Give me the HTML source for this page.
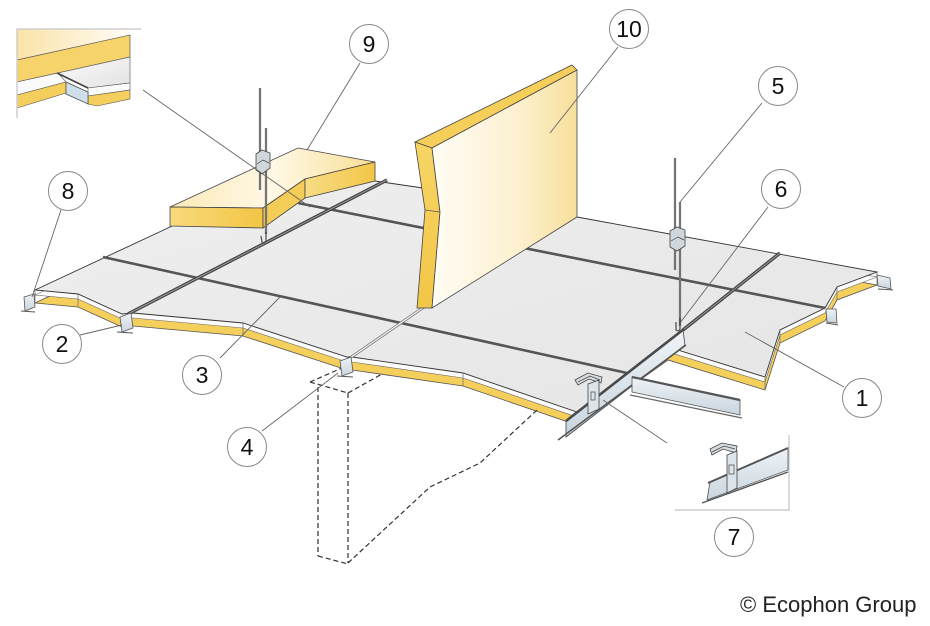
<!DOCTYPE html>
<html><head><meta charset="utf-8"><style>
html,body{margin:0;padding:0;background:#fff;}
svg{display:block;}
text{font-family:"Liberation Sans",Arial,sans-serif;}
</style></head><body>
<svg width="930" height="626" viewBox="0 0 930 626" xmlns="http://www.w3.org/2000/svg">
<defs>
 <linearGradient id="gSurf" x1="0" y1="0" x2="1" y2="1">
  <stop offset="0" stop-color="#efefef"/><stop offset="1" stop-color="#e5e5e5"/>
 </linearGradient>
 <linearGradient id="gPanel" x1="432" y1="0" x2="577" y2="0" gradientUnits="userSpaceOnUse">
  <stop offset="0" stop-color="#fffdf5"/><stop offset="0.6" stop-color="#fcf0cf"/><stop offset="1" stop-color="#f8df9a"/>
 </linearGradient>
 <linearGradient id="gSide" x1="0" y1="0" x2="0" y2="1">
  <stop offset="0" stop-color="#f7d565"/><stop offset="1" stop-color="#f2c647"/>
 </linearGradient>
 <linearGradient id="gBlockTop" x1="170" y1="0" x2="375" y2="0" gradientUnits="userSpaceOnUse">
  <stop offset="0" stop-color="#fbeab8"/><stop offset="0.5" stop-color="#fff8e6"/><stop offset="1" stop-color="#f8df95"/>
 </linearGradient>
 <linearGradient id="gBlockFront" x1="170" y1="0" x2="263" y2="0" gradientUnits="userSpaceOnUse">
  <stop offset="0" stop-color="#f8da7c"/><stop offset="1" stop-color="#f2c544"/>
 </linearGradient>
 <linearGradient id="gBlockRight" x1="305" y1="0" x2="375" y2="0" gradientUnits="userSpaceOnUse">
  <stop offset="0" stop-color="#f8dc86"/><stop offset="1" stop-color="#f2c647"/>
 </linearGradient>
 <linearGradient id="gCream" x1="0" y1="0" x2="1" y2="0">
  <stop offset="0" stop-color="#fae3a6"/><stop offset="1" stop-color="#fffdf8"/>
 </linearGradient>
 <linearGradient id="gInsetGray" x1="0" y1="0" x2="1" y2="1">
  <stop offset="0" stop-color="#fbfbfb"/><stop offset="1" stop-color="#e2e2e2"/>
 </linearGradient>
 <linearGradient id="gMetal" x1="0" y1="0" x2="0" y2="1">
  <stop offset="0" stop-color="#eef3f7"/><stop offset="1" stop-color="#c9d5de"/>
 </linearGradient>
</defs>

<!-- ceiling thickness (yellow + white strip) -->
<polygon transform="translate(0,13)" points="35,290 170,227 300,172 375,181 423,188 577,217 877,272 837,287 825,308 780,330 765,377 668,347 577,412 463,373 352,357 347,357 243,323 133,313 122,314 78,294" fill="#f5cf5c" stroke="#555" stroke-width="0.8"/>
<polygon transform="translate(0,5)" points="35,290 170,227 300,172 375,181 423,188 577,217 877,272 837,287 825,308 780,330 765,377 668,347 577,412 463,373 352,357 347,357 243,323 133,313 122,314 78,294" fill="#fbfbfb" stroke="#666" stroke-width="0.6"/>
<!-- ceiling top surface -->
<polygon points="35,290 170,227 300,172 375,181 423,188 577,217 877,272 837,287 825,308 780,330 765,377 668,347 577,412 463,373 352,357 347,357 243,323 133,313 122,314 78,294" fill="url(#gSurf)" stroke="#333" stroke-width="0.9"/>
<!-- corner verticals -->
<g stroke="#666" stroke-width="0.7">
 <line x1="35" y1="290" x2="35" y2="303"/>
 <line x1="78" y1="294" x2="78" y2="307"/>
 <line x1="243" y1="323" x2="243" y2="336"/>
 <line x1="463" y1="373" x2="463" y2="386"/>
 <line x1="765" y1="377" x2="765" y2="390"/>
 <line x1="780" y1="330" x2="780" y2="343"/>
 <line x1="837" y1="287" x2="837" y2="300"/>
 <line x1="877" y1="272" x2="877" y2="285"/>
</g>

<!-- dashed column / wall -->
<g fill="none" stroke="#333" stroke-width="1.2" stroke-dasharray="5,3">
 <line x1="318" y1="387" x2="318" y2="556"/>
 <line x1="348" y1="393" x2="348" y2="563"/>
 <line x1="318" y1="556" x2="348" y2="564"/>
 <line x1="310" y1="382" x2="348" y2="393"/>
 <line x1="310" y1="382" x2="342" y2="368"/>
 <line x1="348" y1="393" x2="382" y2="374"/>
 <polyline points="348,563 430,487 480,463 537,410"/>
</g>

<!-- cross lines on surface -->
<line x1="103" y1="257" x2="627" y2="373" stroke="#555" stroke-width="2.6"/>
<line x1="298" y1="203" x2="825" y2="308" stroke="#555" stroke-width="2.6"/>
<!-- left main runner -->
<line x1="387" y1="180" x2="128" y2="314" stroke="#444" stroke-width="3.4"/>
<line x1="387" y1="180" x2="128" y2="314" stroke="#9a9a9a" stroke-width="1"/>
<!-- central runner -->
<line x1="440" y1="296" x2="350" y2="358" stroke="#777" stroke-width="2.8"/>
<line x1="440" y1="296" x2="350" y2="358" stroke="#f6f6f6" stroke-width="1.2"/>
<!-- right main runner -->
<line x1="780" y1="253" x2="683" y2="330" stroke="#444" stroke-width="3.4"/>
<line x1="780" y1="253" x2="683" y2="330" stroke="#9a9a9a" stroke-width="1"/>

<!-- main runner T profile at front -->
<polygon points="566,421 683,330 685,345 566,437" fill="url(#gMetal)" stroke="#444" stroke-width="0.8"/>
<line x1="566" y1="421" x2="684" y2="329" stroke="#4a4a4a" stroke-width="2.6"/>
<line x1="558" y1="440" x2="686" y2="345" stroke="#555" stroke-width="1.6"/>
<!-- cross tee -->
<polygon points="632,377 740,400 740,415 632,392" fill="url(#gMetal)" stroke="#555" stroke-width="0.8"/>
<line x1="632" y1="377" x2="740" y2="400" stroke="#555" stroke-width="2.2"/>
<line x1="630" y1="395" x2="742" y2="418" stroke="#666" stroke-width="1.2"/>
<!-- clip on runner -->
<path d="M575,380 L588,373 L602,377 L601,383 L589,379 L578,385 Z" fill="#d5dde3" stroke="#444" stroke-width="0.8"/>
<path d="M578,382 L590,376 L600,380" fill="none" stroke="#444" stroke-width="0.7"/>
<polygon points="588,384 599,380 599,409 588,414" fill="#dde4ea" stroke="#444" stroke-width="0.8"/>
<rect x="591" y="392" width="4" height="8" fill="none" stroke="#444" stroke-width="0.7"/>

<!-- wall angle channels -->
<g fill="url(#gMetal)" stroke="#555" stroke-width="0.8">
 <polygon points="24,297 34,294 35,307 25,311"/>
 <polygon points="120,317 131,313 133,328 122,332"/>
 <polygon points="340,361 351,357 353,372 342,376"/>
 <polygon points="877,275 890,278 891,289 878,286"/>
 <polygon points="826,309 836,309 837,323 827,322"/>
</g>
<g stroke="#555" stroke-width="1">
 <line x1="21" y1="311" x2="35" y2="312"/>
 <line x1="117" y1="332" x2="133" y2="333"/>
 <line x1="337" y1="376" x2="353" y2="377"/>
 <line x1="878" y1="289" x2="893" y2="290"/>
 <line x1="826" y1="323" x2="838" y2="325"/>
</g>

<!-- wall panel 10 -->
<polygon points="415,142 572,65 577,70 432,148" fill="#f6cf5a" stroke="#444" stroke-width="0.8"/>
<polygon points="415,142 432,148 440,212 432,308 417,308 425,210" fill="url(#gSide)" stroke="#444" stroke-width="0.8"/>
<line x1="425" y1="210" x2="440" y2="212" stroke="#555" stroke-width="0.7"/>
<polygon points="432,148 577,70 577,217 432,308 440,212" fill="url(#gPanel)" stroke="#444" stroke-width="0.8"/>

<!-- insulation block 9 -->
<polygon points="170,207 298,148 375,162 305,179 263,208" fill="url(#gBlockTop)" stroke="#444" stroke-width="0.8"/>
<polygon points="170,207 263,208 263,228 170,226" fill="url(#gBlockFront)" stroke="#444" stroke-width="0.8"/>
<polygon points="263,208 305,179 305,198 263,228" fill="#f4cc58" stroke="#444" stroke-width="0.8"/>
<polygon points="305,179 375,162 375,181 305,198" fill="url(#gBlockRight)" stroke="#444" stroke-width="0.8"/>

<!-- hanger A -->
<line x1="260" y1="88" x2="260" y2="190" stroke="#555" stroke-width="2.2"/>
<line x1="266" y1="128" x2="266" y2="234" stroke="#555" stroke-width="2.2"/>
<line x1="260" y1="88" x2="260" y2="190" stroke="#bbb" stroke-width="0.6"/>
<line x1="266" y1="128" x2="266" y2="234" stroke="#bbb" stroke-width="0.6"/>
<path d="M256,154 L262,150 L270,153 L270,168 L262,174 L256,170 Z" fill="#d0d7dc" stroke="#444" stroke-width="0.8"/>
<path d="M257,164 L263,160 L269,163" fill="none" stroke="#444" stroke-width="0.7"/>
<path d="M266,232 L266,241 Q265,244 262,242 L261,236" fill="none" stroke="#555" stroke-width="1.3"/>

<!-- hanger B -->
<line x1="675" y1="158" x2="675" y2="270" stroke="#555" stroke-width="2.2"/>
<line x1="680" y1="202" x2="680" y2="326" stroke="#555" stroke-width="2.2"/>
<line x1="675" y1="158" x2="675" y2="270" stroke="#bbb" stroke-width="0.6"/>
<line x1="680" y1="202" x2="680" y2="326" stroke="#bbb" stroke-width="0.6"/>
<path d="M670,231 L677,227 L685,230 L685,246 L677,251 L670,247 Z" fill="#d0d7dc" stroke="#444" stroke-width="0.8"/>
<path d="M671,241 L678,237 L684,240" fill="none" stroke="#444" stroke-width="0.7"/>
<path d="M680,318 L680,329 Q679,332 676,330 L676,322" fill="none" stroke="#555" stroke-width="1.3"/>

<!-- top-left inset -->
<polygon points="17,29 130,29 130,35 17,60" fill="url(#gCream)"/>
<polygon points="17,60 130,35 130,57 17,82" fill="#f6d36b" stroke="#555" stroke-width="0.7"/>
<polygon points="17,82 58,73 66,82 17,95" fill="#fafafa" stroke="#555" stroke-width="0.6"/>
<polygon points="17,95 66,82 66,93 17,108" fill="#f5cf5d" stroke="#555" stroke-width="0.6"/>
<polygon points="58,73 130,57 130,83 88,88" fill="url(#gInsetGray)" stroke="#555" stroke-width="0.6"/>
<polygon points="88,88 130,83 130,90 88,96" fill="#fafafa" stroke="#555" stroke-width="0.6"/>
<polygon points="88,96 130,90 130,99 97,106 88,104" fill="#f5cf5d" stroke="#555" stroke-width="0.6"/>
<polygon points="66,82 88,92 88,104 66,94" fill="#cfdfe9" stroke="#444" stroke-width="0.7"/>
<line x1="57" y1="73" x2="88" y2="88" stroke="#444" stroke-width="1.6"/>
<polyline points="17,118 17,29 141,29" fill="none" stroke="#cfcfcf" stroke-width="1.5"/>

<!-- inset 7 -->
<polyline points="675,510 789,510 789,435" fill="none" stroke="#cfcfcf" stroke-width="1.5"/>
<polygon points="710,482 788,448 788,470 707,500" fill="url(#gMetal)" stroke="#555" stroke-width="0.8"/>
<line x1="708" y1="483" x2="788" y2="448" stroke="#555" stroke-width="2"/>
<line x1="702" y1="503" x2="788" y2="472" stroke="#555" stroke-width="1.4"/>
<path d="M710,449 L722,443 L737,446 L736,453 L723,449 L712,455 Z" fill="#d5dde3" stroke="#444" stroke-width="0.8"/>
<path d="M712,452 L724,446 L735,449" fill="none" stroke="#444" stroke-width="0.7"/>
<polygon points="727,455 737,451 737,488 727,493" fill="#dde4ea" stroke="#444" stroke-width="0.8"/>
<rect x="729" y="465" width="5" height="9" fill="none" stroke="#444" stroke-width="0.7"/>

<!-- leader lines -->
<g stroke="#666" stroke-width="0.9" fill="none">
 <line x1="360" y1="63" x2="307" y2="150"/>
 <line x1="618" y1="47" x2="550" y2="133"/>
 <line x1="762" y1="103" x2="680" y2="202"/>
 <line x1="768" y1="207" x2="680" y2="323"/>
 <line x1="844" y1="387" x2="745" y2="332"/>
 <line x1="61" y1="210" x2="32" y2="297"/>
 <line x1="80" y1="335" x2="122" y2="325"/>
 <line x1="220" y1="358" x2="280" y2="297"/>
 <line x1="262" y1="431" x2="338" y2="373"/>
 <line x1="143" y1="90" x2="310" y2="207"/>
 <line x1="603" y1="400" x2="667" y2="443"/>
</g>

<!-- circles -->
<g fill="#fff" stroke="#888" stroke-width="1">
 <circle cx="369" cy="44" r="19.5"/>
 <circle cx="629" cy="29" r="19.5"/>
 <circle cx="778" cy="86" r="19.5"/>
 <circle cx="781" cy="189" r="19.5"/>
 <circle cx="862" cy="398" r="19.5"/>
 <circle cx="734" cy="537" r="19.5"/>
 <circle cx="68" cy="191" r="19.5"/>
 <circle cx="62" cy="344" r="19.5"/>
 <circle cx="202" cy="375" r="19.5"/>
 <circle cx="247" cy="447" r="19.5"/>
</g>
<g fill="#111" font-size="23" text-anchor="middle">
 <text x="369" y="52">9</text>
 <text x="629" y="37">10</text>
 <text x="778" y="94">5</text>
 <text x="781" y="197">6</text>
 <text x="862" y="406">1</text>
 <text x="734" y="545">7</text>
 <text x="68" y="199">8</text>
 <text x="62" y="352">2</text>
 <text x="202" y="383">3</text>
 <text x="247" y="455">4</text>
</g>

<text x="740" y="612" font-size="22" fill="#222">© Ecophon Group</text>
</svg>
</body></html>
